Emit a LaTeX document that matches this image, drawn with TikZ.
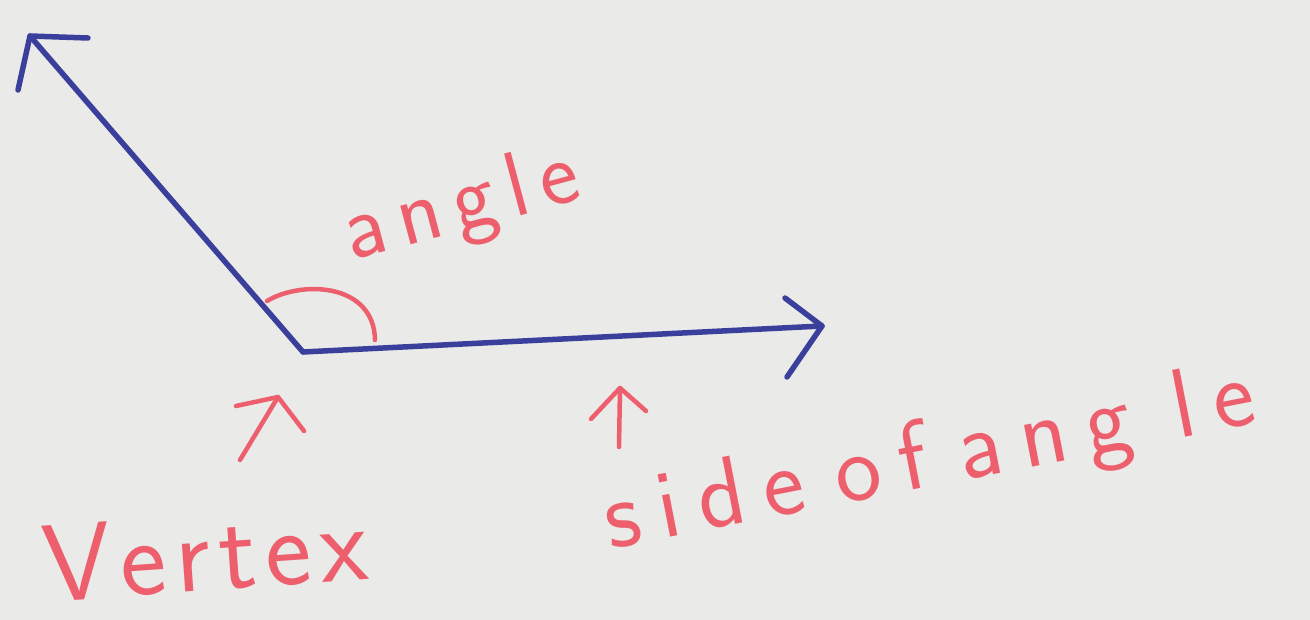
\documentclass[tikz,border=0pt]{standalone}
\usetikzlibrary{arrows.meta}
\definecolor{paper}{HTML}{EAEAE8}
\definecolor{ink}{HTML}{3B3F9C}
\definecolor{pen}{HTML}{EE5F6E}
\newcommand{\gapA}{\kern 13pt }
\newcommand{\gapB}{\kern 19pt }
\newcommand{\gapV}{\kern 9pt }
\tikzset{
  ray/.style={draw=ink, line width=5.5pt, line cap=round, line join=round},
  redline/.style={draw=pen, line width=4.5pt, line cap=round, line join=round},
  hand/.style={text=pen, inner sep=0pt}
}
\begin{document}
\begin{tikzpicture}[x=1pt,y=-1pt]
\fill[paper] (0,0) rectangle (1310,620);
\useasboundingbox (0,0) rectangle (1310,620);
% vertex and ray ends
\coordinate (V) at (303,352);
\coordinate (A) at (30,36);
\coordinate (Aw1) at (88,38);
\coordinate (Aw2) at (18,90);
\coordinate (B) at (822,326);
\coordinate (Bw1) at (785,298);
\coordinate (Bw2) at (787,377);
\draw[ray] (V) -- (A);
\draw[ray] (Aw1) -- (A) -- (Aw2);
\draw[ray] (V) -- (B);
\draw[ray] (Bw1) -- (B) -- (Bw2);
% angle arc
\coordinate (arcS) at (267,301);
\coordinate (arcE) at (375,340);
\draw[redline] (arcS) .. controls (302,280) and (374,283) .. (arcE);
% vertex pointer
\coordinate (vtip) at (278,397);
\coordinate (vtail) at (240,460);
\coordinate (vw1) at (236,406);
\coordinate (vw2) at (304,431);
\draw[redline] (vtail) -- (vtip);
\draw[redline] (vw1) -- (vtip) -- (vw2);
% side pointer
\coordinate (stip) at (620,388);
\coordinate (stail) at (619,447);
\coordinate (sw1) at (591,419);
\coordinate (sw2) at (646,411);
\draw[redline] (stail) -- (stip);
\draw[redline] (sw1) -- (stip) -- (sw2);
% labels
\node[hand, rotate=15, font=\sffamily\fontsize{92}{92}\selectfont] (angle) at (462,208)
  {a\gapA n\gapA g\gapA l\gapA e};
\node[hand, rotate=4, font=\sffamily\fontsize{110}{110}\selectfont] (vertex) at (205,553)
  {V\gapV e\gapV r\gapV t\gapV e\gapV x};
\node[hand, rotate=11, font=\sffamily\fontsize{98}{98}\selectfont] (side) at (930,462)
  {s\gapB i\gapB d\gapB e\kern 32pt o\gapB f\kern 32pt a\gapB n\gapB g\kern 44pt l\gapB e};
\end{tikzpicture}
\end{document}
